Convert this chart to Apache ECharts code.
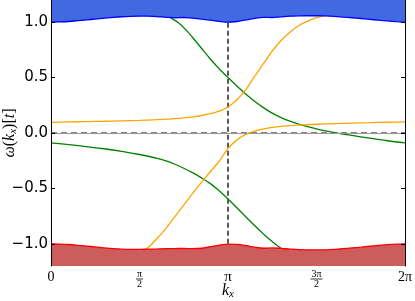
<!DOCTYPE html>
<html>
<head>
<meta charset="utf-8">
<script src="https://cdn.jsdelivr.net/npm/echarts@6/dist/echarts.min.js"></script>
<style>html,body{margin:0;padding:0;background:#fff}#c{width:415px;height:301px}</style>
</head>
<body>
<div id="c"></div>
<script>
// k_x in units of pi
var xTicks = [0, 0.5, 1, 1.5, 2];
var yTicks = [-1, -0.5, 0, 0.5, 1];

var kBand = [0,0.05,0.1,0.15,0.2,0.25,0.3,0.35,0.4,0.45,0.5,0.55,0.6,0.65,0.7,0.75,0.8,0.85,0.9,0.95,1.0,1.05,1.1,1.15,1.2,1.25,1.3,1.35,1.4,1.45,1.5,1.55,1.6,1.65,1.7,1.75,1.8,1.85,1.9,1.95,2.0];
var upperEdge = [1.0,1.002,1.006,1.013,1.02,1.028,1.036,1.043,1.049,1.053,1.055,1.054,1.05,1.044,1.04,1.042,1.036,1.028,1.018,1.007,1.0,1.006,1.02,1.035,1.044,1.042,1.048,1.054,1.057,1.058,1.058,1.056,1.052,1.046,1.04,1.033,1.026,1.018,1.011,1.005,1.0];
var lowerEdge = [-1.0,-1.002,-1.006,-1.013,-1.02,-1.028,-1.036,-1.043,-1.048,-1.05,-1.05,-1.048,-1.046,-1.044,-1.043,-1.041,-1.044,-1.04,-1.026,-1.011,-1.002,-1.004,-1.015,-1.03,-1.04,-1.037,-1.041,-1.047,-1.052,-1.054,-1.055,-1.054,-1.05,-1.044,-1.037,-1.03,-1.022,-1.015,-1.008,-1.003,-1.0];

var kGreenA = [0.65,0.68,0.72,0.76,0.8,0.85,0.9,0.95,1.0,1.05,1.1,1.15,1.2,1.25,1.3,1.35,1.4,1.45,1.5,1.55,1.6,1.7,1.8,1.9,2.0];
var greenA  = [1.06,1.035,0.995,0.935,0.862,0.765,0.668,0.58,0.5,0.424,0.352,0.287,0.229,0.179,0.139,0.107,0.08,0.057,0.037,0.019,0.004,-0.022,-0.047,-0.07,-0.09];

var kGreenB = [0,0.1,0.2,0.3,0.4,0.5,0.6,0.65,0.7,0.75,0.8,0.85,0.9,0.95,1.0,1.05,1.1,1.15,1.2,1.25,1.3,1.35];
var greenB  = [-0.09,-0.105,-0.122,-0.142,-0.166,-0.194,-0.228,-0.252,-0.282,-0.318,-0.358,-0.405,-0.457,-0.52,-0.595,-0.675,-0.755,-0.835,-0.91,-0.98,-1.04,-1.08];

var kOrangeA = [0,0.1,0.2,0.3,0.4,0.5,0.6,0.7,0.75,0.8,0.85,0.9,0.95,1.0,1.05,1.1,1.15,1.2,1.25,1.3,1.35,1.4,1.45,1.5,1.55,1.6];
var orangeA  = [0.096,0.1,0.103,0.106,0.11,0.114,0.12,0.13,0.137,0.146,0.158,0.174,0.197,0.234,0.3,0.39,0.51,0.625,0.74,0.835,0.91,0.97,1.01,1.04,1.06,1.07];

var kOrangeB = [0.5,0.55,0.6,0.65,0.7,0.75,0.8,0.85,0.9,0.95,1.0,1.05,1.1,1.15,1.2,1.3,1.4,1.5,1.6,1.7,1.8,1.9,2.0];
var orangeB  = [-1.08,-1.03,-0.95,-0.86,-0.755,-0.65,-0.545,-0.445,-0.35,-0.255,-0.14,-0.062,-0.012,0.018,0.038,0.06,0.071,0.079,0.085,0.09,0.093,0.097,0.1];

function zip(a, b) { return a.map(function (v, i) { return [v, b[i]]; }); }

var chart = echarts.init(document.getElementById('c'), null, {renderer: 'canvas'});
var serif = 'Liberation Serif';
function line(data, color, z, extra) {
  var s = {type: 'line', symbol: 'none', smooth: 0.35, data: data, z: z, lineStyle: {color: color, width: 1.3}};
  return Object.assign(s, extra || {});
}
chart.setOption({
  animation: false,
  backgroundColor: '#fff',
  grid: {left: 51, right: 10, top: 0, bottom: 35, containLabel: false, outerBoundsMode: 'none'},
  xAxis: {
    type: 'value', min: 0, max: 2, z: 5,
    axisLine: {show: true, lineStyle: {color: '#999', width: 1}},
    axisTick: {show: false},
    splitLine: {show: false},
    axisLabel: {
      customValues: xTicks, margin: 4, color: '#000',
      formatter: function (v) {
        if (v === 0) return '{a|0}';
        if (v === 0.5) return '{n|π}\n{bar| }\n{d|2}';
        if (v === 1) return '{p|π}';
        if (v === 1.5) return '{n|3π}\n{bar2| }\n{d|2}';
        if (v === 2) return '{a|2π}';
        return '';
      },
      rich: {
        a: {fontFamily: serif, fontSize: 14, color: '#000', lineHeight: 14},
        p: {fontFamily: serif, fontSize: 15, color: '#000', lineHeight: 15},
        n: {fontFamily: serif, fontSize: 10, color: '#000', lineHeight: 8},
        d: {fontFamily: serif, fontSize: 10, color: '#000', lineHeight: 8},
        bar: {width: 7, height: 0.8, lineHeight: 2, backgroundColor: '#000'},
        bar2: {width: 12, height: 0.8, lineHeight: 2, backgroundColor: '#000'}
      }
    },
    name: '{k|k}{s|x}', nameLocation: 'middle', nameGap: 15, nameMoveOverlap: false,
    nameTextStyle: {
      rich: {
        k: {fontFamily: serif, fontStyle: 'italic', fontSize: 16, color: '#000'},
        s: {fontFamily: serif, fontStyle: 'italic', fontSize: 11, color: '#000', padding: [8,0,0,0]}
      }
    }
  },
  yAxis: [{
    type: 'value', min: -1.2, max: 1.2, z: 5,
    axisLine: {show: true, lineStyle: {color: '#000', width: 1}},
    axisTick: {show: true, inside: true, length: 4, customValues: yTicks, lineStyle: {color: '#000'}},
    splitLine: {show: false},
    axisLabel: {
      customValues: yTicks, margin: 3, color: '#000', fontFamily: 'DejaVu Sans', fontSize: 15,
      formatter: function (v) { return (v < 0 ? '\u2212' : '') + Math.abs(v).toFixed(1); }
    },
    name: '{i|ω}{r|(}{i|k}{s|x}{r|)[}{i|t}{r|]}', nameLocation: 'middle', nameRotate: 90, nameGap: 32,
    nameMoveOverlap: false,
    nameTextStyle: {
      rich: {
        i: {fontFamily: serif, fontStyle: 'italic', fontSize: 16, color: '#000'},
        r: {fontFamily: serif, fontSize: 16, color: '#000'},
        s: {fontFamily: serif, fontStyle: 'italic', fontSize: 11, color: '#000', padding: [8,0,0,0]}
      }
    }
  }, {
    type: 'value', min: -1.2, max: 1.2, position: 'right', z: 5,
    axisLine: {show: true, onZero: false, lineStyle: {color: '#000', width: 1}},
    axisTick: {show: true, inside: true, length: 4, customValues: yTicks, lineStyle: {color: '#000'}},
    axisLabel: {show: false},
    splitLine: {show: false}
  }],
  series: [
    {type: 'line', data: [[0, 0], [2, 0]], symbol: 'none', z: 1,
     lineStyle: {color: '#808080', width: 2, type: [6, 4]}},
    {type: 'line', data: [[1, -1], [1, 1]], symbol: 'none', z: 1,
     lineStyle: {color: '#000', width: 1.3, type: [5, 3]}},
    line(zip(kGreenA, greenA), '#008000', 2),
    line(zip(kGreenB, greenB), '#008000', 2),
    line(zip(kOrangeA, orangeA), '#FFA500', 2),
    line(zip(kOrangeB, orangeB), '#FFA500', 2),
    line(zip(kBand, upperEdge), '#0000FF', 3, {areaStyle: {color: '#4169E1', opacity: 1, origin: 'end'}}),
    line(zip(kBand, lowerEdge), '#FF0000', 3, {areaStyle: {color: '#CD5C5C', opacity: 1, origin: 'start'}})
  ]
});
</script>
</body>
</html>
